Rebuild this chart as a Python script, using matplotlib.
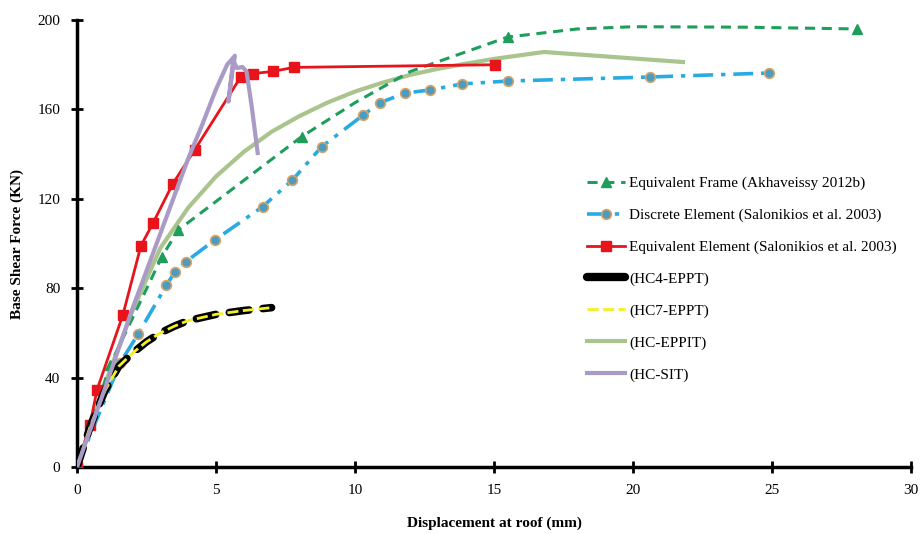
import matplotlib.pyplot as plt
from matplotlib.lines import Line2D

plt.rcParams['font.family'] = ['Liberation Serif', 'DejaVu Serif']

# Equivalent Frame (Akhaveissy 2012b) - line points, markers at some of them
ef_x = [0, 1.19, 3.05, 3.64, 8.08, 10.0, 12.0, 15.5, 18.0, 20.0, 24.0, 28.06]
ef_y = [0, 45.6, 94, 106, 147.8, 163.0, 177.0, 192.4, 196.0, 197.0, 196.8, 196.0]
ef_marks = [1, 2, 3, 4, 7, 11]

# Discrete Element (Salonikios et al. 2003)
de_x = [0, 1.55, 2.2, 3.22, 3.53, 3.92, 4.96, 6.68, 7.75, 8.8, 10.3, 10.9, 11.8, 12.7, 13.85, 15.5, 20.6, 24.9]
de_y = [0, 46.5, 59.5, 81.4, 87.4, 91.9, 101.6, 116.5, 128.4, 143.3, 157.5, 163.0, 167.3, 168.7, 171.4, 172.7, 174.5, 176.3]

# Equivalent Element (Salonikios et al. 2003)
ee_x = [0, 0.47, 0.72, 1.65, 2.3, 2.73, 3.44, 4.24, 5.89, 6.32, 7.04, 7.8, 15.04]
ee_y = [0, 19, 34.5, 68, 99, 109, 126.6, 142, 174.5, 176, 177, 178.8, 180]

# HC4-EPPT and HC7-EPPT
hc4_x = [0, 0.5, 1.0, 1.5, 2.0, 2.5, 3.0, 3.5, 4.0, 5.0, 6.0, 7.0]
hc4_y = [0, 19, 34, 45, 51, 56, 60, 63, 65.5, 68.3, 70.0, 71.3]
hc7_x = [0, 0.5, 1.0, 1.5, 2.0, 2.5, 3.0, 3.5, 4.0, 5.0, 6.0, 7.0]
hc7_y = [0, 19, 34, 45, 51, 56, 60, 63, 65.5, 68.3, 70.0, 71.3]

# HC-EPPIT
ep_x = [0, 1, 2, 3, 4, 5, 6, 7, 8, 9, 10, 11, 12, 13, 14, 15, 16.8, 21.8]
ep_y = [0, 37, 70, 98, 116, 130, 141, 150, 157, 163, 168, 172, 175.5, 178.2, 180.5, 182.6, 185.7, 181.2]

# HC-SIT
sit_x = [0, 1, 2, 3, 4, 4.5, 5.0, 5.4, 5.68, 5.6, 5.45, 5.62, 5.75, 5.95, 6.1, 6.3, 6.5]
sit_y = [0, 35, 71, 104.5, 138, 153, 169, 180, 184, 178, 163.5, 182, 178.5, 179, 177, 160, 140.5]

fig = plt.figure(figsize=(9.22, 5.34), dpi=100)
ax = fig.add_axes([0.0835, 0.1255, 0.9045, 0.837])

l_ep, = ax.plot(ep_x, ep_y, color='#A9C48C', lw=3, zorder=2)
l_de, = ax.plot(de_x, de_y, color='#29ABE2', lw=2.6, linestyle=(0, (5.5, 2.2, 1.2, 2.2)),
                marker='o', ms=7, mfc='#4A9CC0', mec='#D4A36A', mew=1.2, zorder=3)
l_ef, = ax.plot(ef_x, ef_y, color='#1E9E5A', lw=2.2, linestyle=(0, (3.3, 2.2)),
                marker='^', ms=6.5, markevery=ef_marks, zorder=4)
l_ee, = ax.plot(ee_x, ee_y, color='#E8141B', lw=2, marker='s', ms=6.5, zorder=5)
ax.plot(hc4_x, hc4_y, color='black', lw=5.5, linestyle=(0, (2.6, 1.8)),
        dash_capstyle='round', zorder=6)
l_hc7, = ax.plot(hc7_x, hc7_y, color='#F5F020', lw=2, linestyle=(0, (4, 1.6)), zorder=7)
l_sit, = ax.plot(sit_x, sit_y, color='#A99BC6', lw=3, zorder=8)

l_hc4 = Line2D([], [], color='black', lw=6, solid_capstyle='round')

ax.set_xlim(0, 30)
ax.set_ylim(0, 200)
ax.set_xticks(range(0, 31, 5))
ax.set_yticks(range(0, 201, 40))
for s in ['top', 'right']:
    ax.spines[s].set_visible(False)
for s in ['left', 'bottom']:
    ax.spines[s].set_linewidth(2.5)
ax.tick_params(direction='inout', length=8, width=2, labelsize=11, pad=8)

ax.set_xlabel('Displacement at roof (mm)', fontsize=11, fontweight='bold', labelpad=14)
ax.set_ylabel('Base Shear Force (KN)', fontsize=11, fontweight='bold', labelpad=10)

handles = [l_ef, l_de, l_ee, l_hc4, l_hc7, l_ep, l_sit]
labels = ['Equivalent Frame (Akhaveissy 2012b)',
          'Discrete Element (Salonikios et al. 2003)',
          'Equivalent Element (Salonikios et al. 2003)',
          '(HC4-EPPT)', '(HC7-EPPT)', '(HC-EPPIT)', '(HC-SIT)']
ax.legend(handles, labels, loc='upper left', bbox_to_anchor=(0.611, 0.65),
          frameon=False, borderpad=0, borderaxespad=0, fontsize=11,
          labelspacing=1.18, handlelength=2.5, handletextpad=0.3)

fig.savefig('out.png', dpi=100)
